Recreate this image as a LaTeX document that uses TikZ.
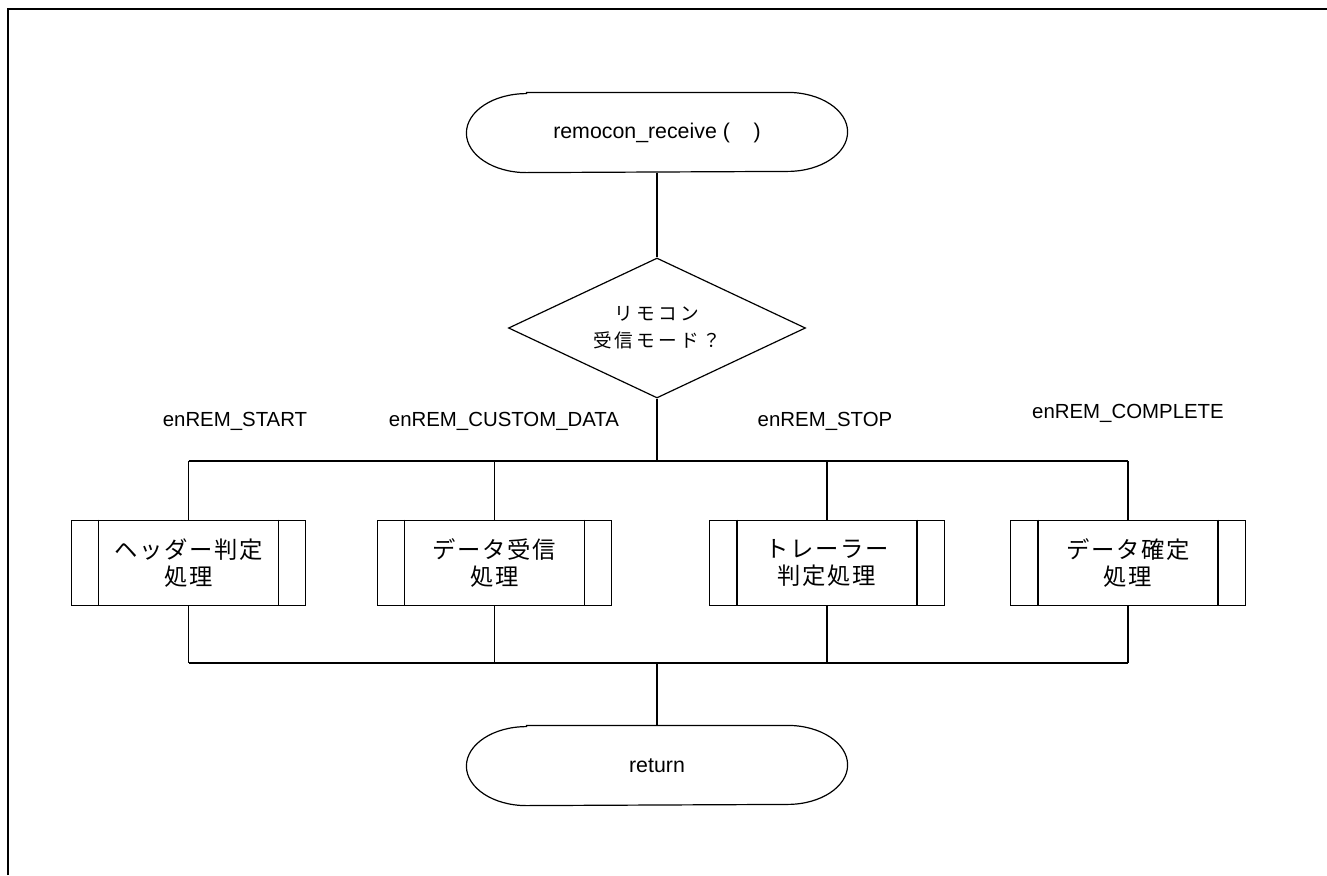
\documentclass[tikz,border=0pt]{standalone}
\usepackage{fontspec}
\setmainfont{Liberation Sans}
\newfontfamily\jpbox[LetterSpace=7]{Noto Sans CJK JP}
\newfontfamily\jpdia[LetterSpace=17]{Noto Sans CJK JP}
\usetikzlibrary{shapes,positioning}

\begin{document}
\begin{tikzpicture}[x=0.75pt,y=0.75pt,line width=0.9pt,
terminal/.style={rectangle,minimum width=285pt,minimum height=59.25pt,inner sep=0pt,
font=\fontsize{16pt}{18pt}\selectfont},
decision/.style={diamond,draw,aspect=2.1,minimum width=222.75pt,minimum height=105pt,inner sep=0pt,
align=center,font=\jpdia\fontsize{14pt}{20.25pt}\selectfont},
subproc/.style={rectangle,draw,minimum width=176pt,minimum height=64pt,inner sep=0pt,
align=center,font=\jpbox\fontsize{17.5pt}{20.25pt}\selectfont},
case/.style={font=\fontsize{15.3pt}{17pt}\selectfont}]
    \useasboundingbox (0,0) rectangle (1327,-875);
    \draw[line width=2.2pt] (8,-875) -- (8,-9) -- (1327,-9);
    \node[terminal] (start) at (657,-132.5) {remocon\_receive (\ \ \ \ )};
    \node[decision] (mode) at (657,-328) {リモコン\\受信モード？};
    \coordinate (split) at (657,-461);
    \node[case] (cstart) at (235,-421) {enREM\_START};
    \node[case] (ccustom) at (504,-421) {enREM\_CUSTOM\_DATA};
    \node[case] (cstop) at (825,-421) {enREM\_STOP};
    \node[case] (ccomplete) at (1128,-413) {enREM\_COMPLETE};
    \node[subproc] (hdr) at (188.5,-563) {ヘッダー判定\\処理};
    \node[subproc] (dat) at (494.5,-563) {データ受信\\処理};
    \node[subproc] (trl) at (827,-563) {トレーラー\\判定処理};
    \node[subproc] (fix) at (1128,-563) {データ確定\\処理};
    \coordinate (join) at (657,-663);
    \node[terminal] (ret) at (657,-765.5) {return};
    % rounded ends of the terminals
    \foreach \t in {start,ret}
      \draw ([xshift=45pt]\t.north west) -- ([xshift=-45pt]\t.north east)
        arc[start angle=90,end angle=-90,x radius=45pt,y radius=29.625pt]
        -- ([xshift=45pt]\t.south west)
        arc[start angle=270,end angle=90,x radius=45pt,y radius=29.625pt] -- cycle;
    \draw (start.south) -- (mode.north);
    \draw (mode.south) -- (split);
    \draw (hdr.north |- split) -- (fix.north |- split);
    \foreach \b in {hdr,dat,trl,fix} {
      \draw ([xshift=21pt]\b.north west) -- ([xshift=21pt]\b.south west);
      \draw ([xshift=-21pt]\b.north east) -- ([xshift=-21pt]\b.south east);
      \draw (\b.north |- split) -- (\b.north);
      \draw (\b.south) -- (\b.south |- join);
    }
    \draw (hdr.south |- join) -- (fix.south |- join);
    \draw (join) -- (ret.north);
\end{tikzpicture}
\end{document}
